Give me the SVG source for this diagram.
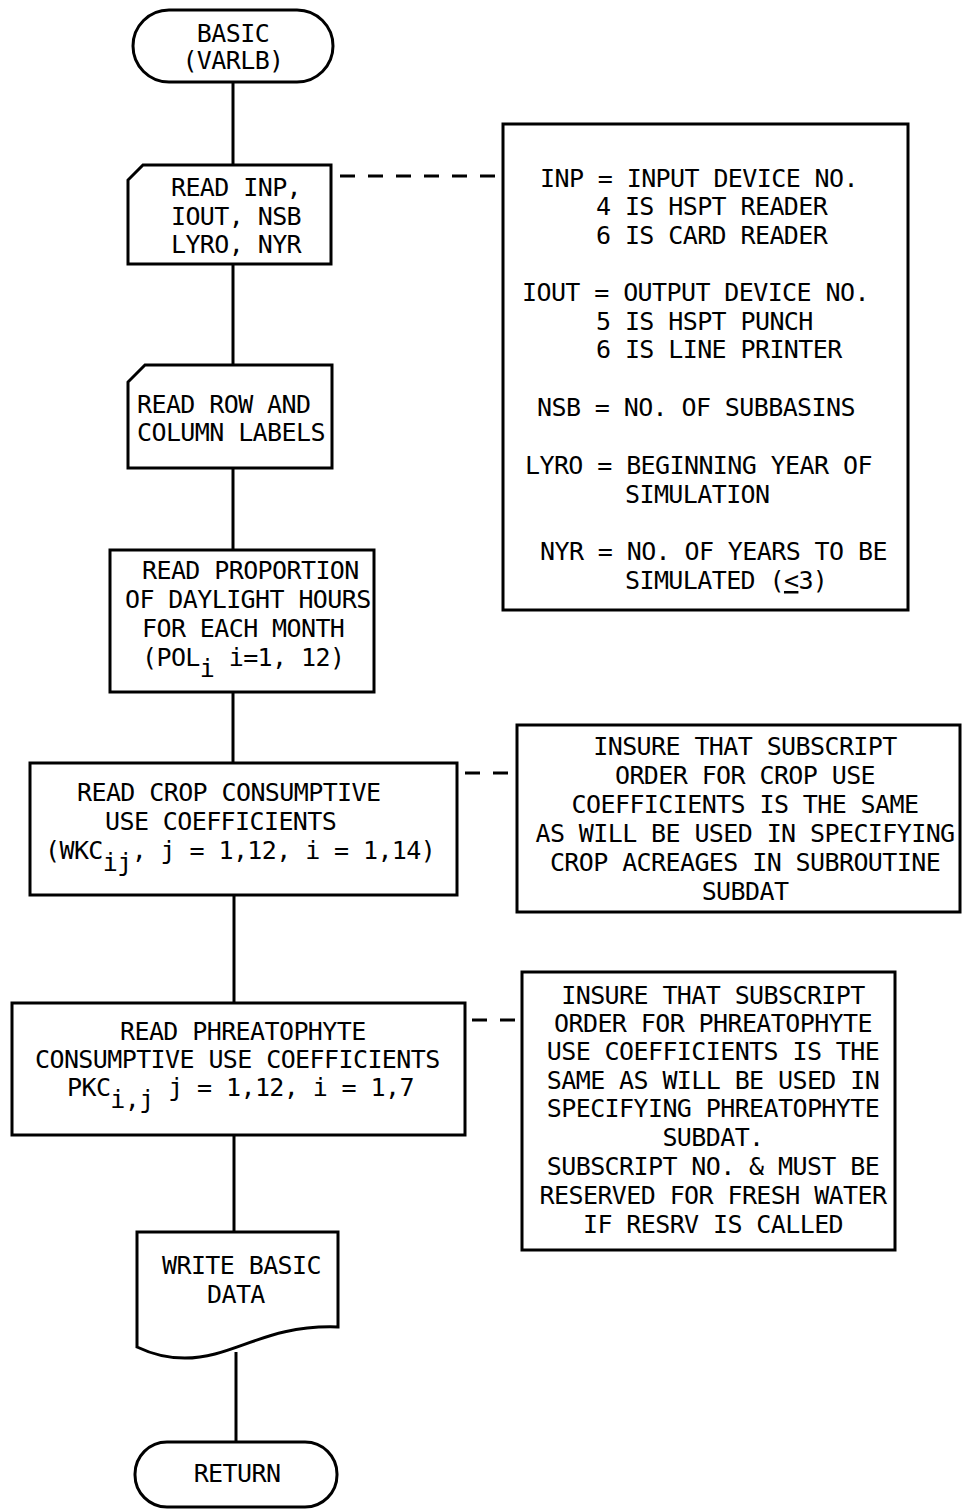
<svg xmlns="http://www.w3.org/2000/svg" width="964" height="1510" viewBox="0 0 964 1510">
<style>
.n{fill:#fff;stroke:#000;stroke-width:3;stroke-linejoin:miter}
.t{font-family:"DejaVu Sans Mono","Liberation Mono",monospace;font-size:25px;letter-spacing:-0.6px;fill:#000}
.m{text-anchor:middle}
.c{stroke:#000;stroke-width:3;fill:none}
.d{stroke-dasharray:15 13}
</style>
<rect width="964" height="1510" fill="#fff"/>
<g id="connectors">
<line class="c" x1="233" y1="82" x2="233" y2="165"/>
<line class="c" x1="233" y1="264" x2="233" y2="365"/>
<line class="c" x1="233" y1="468" x2="233" y2="550"/>
<line class="c" x1="233" y1="692" x2="233" y2="763"/>
<line class="c" x1="234" y1="895" x2="234" y2="1003"/>
<line class="c" x1="234" y1="1135" x2="234" y2="1232"/>
<line class="c" x1="236" y1="1352" x2="236" y2="1442"/>
<line class="c d" x1="340" y1="176" x2="503" y2="176"/>
<line class="c d" x1="465" y1="773" x2="515" y2="773"/>
<line class="c d" x1="472" y1="1020" x2="520" y2="1020"/>
</g>
<g id="start">
<rect class="n" x="133" y="10" width="200" height="72" rx="36"/>
<text class="t m" x="233" y="42">BASIC</text>
<text class="t m" x="233" y="69">(VARLB)</text>
</g>
<g id="read-inp">
<path class="n" d="M143,165 H331 V264 H128 V180 Z"/>
<text class="t m" x="236" y="196">READ INP,</text>
<text class="t m" x="236" y="225">IOUT, NSB</text>
<text class="t m" x="236" y="253">LYRO, NYR</text>
</g>
<g id="note-devices">
<rect class="n" x="503" y="124" width="405" height="486"/>
<text class="t" x="540" y="187">INP = INPUT DEVICE NO.</text>
<text class="t" x="596" y="215">4 IS HSPT READER</text>
<text class="t" x="596" y="244">6 IS CARD READER</text>
<text class="t" x="522" y="301">IOUT = OUTPUT DEVICE NO.</text>
<text class="t" x="596" y="330">5 IS HSPT PUNCH</text>
<text class="t" x="596" y="358">6 IS LINE PRINTER</text>
<text class="t" x="537" y="416">NSB = NO. OF SUBBASINS</text>
<text class="t" x="525" y="474">LYRO = BEGINNING YEAR OF</text>
<text class="t" x="625" y="503">SIMULATION</text>
<text class="t" x="540" y="560">NYR = NO. OF YEARS TO BE</text>
<text class="t" x="625" y="589">SIMULATED (<tspan text-decoration="underline">&lt;</tspan>3)</text>
</g>
<g id="read-labels">
<path class="n" d="M145,365 H332 V468 H128 V382 Z"/>
<text class="t" x="137" y="413">READ ROW AND</text>
<text class="t" x="137" y="441">COLUMN LABELS</text>
</g>
<g id="read-daylight">
<rect class="n" x="110" y="550" width="264" height="142"/>
<text class="t" x="142" y="579">READ PROPORTION</text>
<text class="t" x="125" y="608">OF DAYLIGHT HOURS</text>
<text class="t" x="142" y="637">FOR EACH MONTH</text>
<text class="t" x="142" y="666">(POL<tspan dy="11">i</tspan><tspan dy="-11"> i=1, 12)</tspan></text>
</g>
<g id="read-crop">
<rect class="n" x="30" y="763" width="427" height="132"/>
<text class="t" x="77" y="801">READ CROP CONSUMPTIVE</text>
<text class="t" x="105" y="830">USE COEFFICIENTS</text>
<text class="t" x="45" y="859">(WKC<tspan dy="12">ij</tspan><tspan dy="-12">, j = 1,12, i = 1,14)</tspan></text>
</g>
<g id="note-crop">
<rect class="n" x="517" y="725" width="443" height="187"/>
<text class="t m" x="745" y="755">INSURE THAT SUBSCRIPT</text>
<text class="t m" x="745" y="784">ORDER FOR CROP USE</text>
<text class="t m" x="745" y="813">COEFFICIENTS IS THE SAME</text>
<text class="t m" x="745" y="842">AS WILL BE USED IN SPECIFYING</text>
<text class="t m" x="745" y="871">CROP ACREAGES IN SUBROUTINE</text>
<text class="t m" x="745" y="900">SUBDAT</text>
</g>
<g id="read-phreatophyte">
<rect class="n" x="12" y="1003" width="453" height="132"/>
<text class="t" x="120" y="1040">READ PHREATOPHYTE</text>
<text class="t" x="35" y="1068">CONSUMPTIVE USE COEFFICIENTS</text>
<text class="t" x="67" y="1096">PKC<tspan dy="12">i,j</tspan><tspan dy="-12"> j = 1,12, i = 1,7</tspan></text>
</g>
<g id="note-phreatophyte">
<rect class="n" x="522" y="972" width="373" height="278"/>
<text class="t m" x="713" y="1004">INSURE THAT SUBSCRIPT</text>
<text class="t m" x="713" y="1032">ORDER FOR PHREATOPHYTE</text>
<text class="t m" x="713" y="1060">USE COEFFICIENTS IS THE</text>
<text class="t m" x="713" y="1089">SAME AS WILL BE USED IN</text>
<text class="t m" x="713" y="1117">SPECIFYING PHREATOPHYTE</text>
<text class="t m" x="713" y="1146">SUBDAT.</text>
<text class="t m" x="713" y="1175">SUBSCRIPT NO. &amp; MUST BE</text>
<text class="t m" x="713" y="1204">RESERVED FOR FRESH WATER</text>
<text class="t m" x="713" y="1233">IF RESRV IS CALLED</text>
</g>
<g id="write-data">
<path class="n" d="M137,1232 H338 V1327 C280,1325 250,1345 215,1354 C185,1362 160,1358 137,1347 Z"/>
<text class="t" x="162" y="1274">WRITE BASIC</text>
<text class="t" x="207" y="1303">DATA</text>
</g>
<g id="return">
<rect class="n" x="135" y="1442" width="202" height="65" rx="32"/>
<text class="t m" x="237" y="1482">RETURN</text>
</g>
</svg>
